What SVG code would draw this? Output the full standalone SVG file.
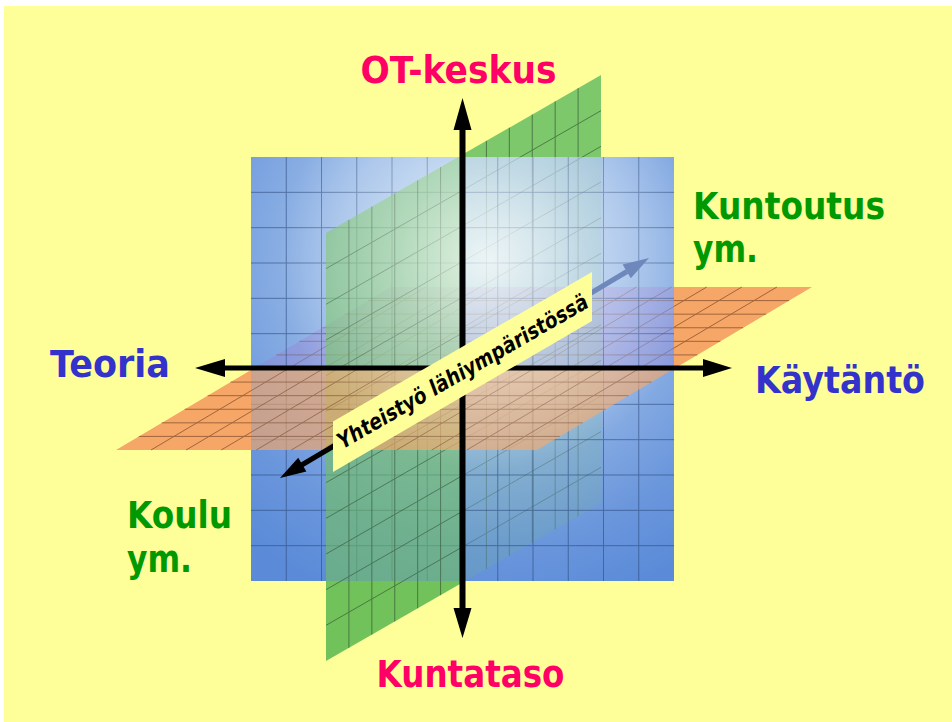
<svg xmlns="http://www.w3.org/2000/svg" xmlns:xlink="http://www.w3.org/1999/xlink" width="952" height="722" viewBox="0 0 952 722">
<style>
.gl{fill:none;stroke-width:1;vector-effect:non-scaling-stroke}
.lbl{font-family:"DejaVu Sans","Liberation Sans",sans-serif;font-weight:bold;font-size:37px}
.mag{fill:#ff0066}.blu{fill:#3333cc}.grn{fill:#009900}
</style>
<defs>
<radialGradient id="blueG" gradientUnits="userSpaceOnUse" cx="480" cy="260" r="360">
<stop offset="0" stop-color="#bcd8ee"/><stop offset="0.4" stop-color="#9dbde8"/><stop offset="0.8" stop-color="#6a96dc"/><stop offset="1" stop-color="#5b8bd8"/>
</radialGradient>
<radialGradient id="glow" gradientUnits="userSpaceOnUse" cx="490" cy="260" r="210">
<stop offset="0" stop-color="#fff" stop-opacity="0.75"/><stop offset="0.45" stop-color="#fff" stop-opacity="0.35"/><stop offset="1" stop-color="#fff" stop-opacity="0"/>
</radialGradient>
<path id="orShape" d="M391,287 L812,287 L537,450 L116,450 Z"/>
<path id="grShape" d="M326,233 L601,75 L601,503 L326,661 Z"/>
<g id="orGrid" transform="translate(391,287) skewX(-59.35)"><path class="gl" stroke="#6a3a20" d="M35.08,0V163M70.17,0V163M105.25,0V163M140.33,0V163M175.42,0V163M210.5,0V163M245.58,0V163M280.67,0V163M315.75,0V163M350.83,0V163M385.92,0V163M0,13.58H421M0,27.17H421M0,40.75H421M0,54.33H421M0,67.92H421M0,81.5H421M0,95.08H421M0,108.67H421M0,122.25H421M0,135.83H421M0,149.42H421"/></g>
<g id="grGrid" transform="translate(326,233) skewY(-29.88)"><path class="gl" stroke="#2d4a2d" d="M22.92,0V428M45.83,0V428M68.75,0V428M91.67,0V428M114.58,0V428M137.5,0V428M160.42,0V428M183.33,0V428M206.25,0V428M229.17,0V428M252.08,0V428M0,35.67H275M0,71.33H275M0,107H275M0,142.67H275M0,178.33H275M0,214H275M0,249.67H275M0,285.33H275M0,321H275M0,356.67H275M0,392.33H275"/></g>
<clipPath id="cOrBackOut"><rect x="674" y="280" width="160" height="88"/></clipPath>
<clipPath id="cOrBackIn"><rect x="251" y="280" width="423" height="88"/></clipPath>
<clipPath id="cOrFrontIn"><rect x="251" y="368" width="423" height="90"/></clipPath>
<clipPath id="cOrFrontOut"><rect x="100" y="368" width="151" height="90"/></clipPath>
<clipPath id="cGrBackOut"><rect x="462" y="60" width="150" height="97"/></clipPath>
<clipPath id="cGrBackIn"><rect x="462" y="157" width="212" height="424"/></clipPath>
<clipPath id="cGrFrontIn"><rect x="251" y="157" width="211" height="424"/></clipPath>
<clipPath id="cGrFrontOut"><rect x="300" y="581" width="180" height="100"/></clipPath>
</defs>

<rect x="0" y="0" width="952" height="722" fill="#ffffff"/>
<rect x="4" y="6" width="948" height="716" fill="#ffff99"/>

<g id="planes">
<rect id="blue-plane" x="251" y="157" width="423" height="424" fill="url(#blueG)"/>
<g id="orange-back-out" clip-path="url(#cOrBackOut)"><use xlink:href="#orShape" fill="#f6a666"/><use xlink:href="#orGrid" opacity="0.6"/></g>
<g id="green-back-out" clip-path="url(#cGrBackOut)"><use xlink:href="#grShape" fill="#7dc86b"/><use xlink:href="#grGrid" opacity="0.6"/></g>
<g id="orange-back-in" clip-path="url(#cOrBackIn)"><use xlink:href="#orShape" fill="#9a78d0" opacity="0.3"/><use xlink:href="#orGrid" opacity="0.35"/></g>
<g id="green-back-in" clip-path="url(#cGrBackIn)"><use xlink:href="#grShape" fill="#7cc46a" opacity="0.15"/><use xlink:href="#grGrid" opacity="0.3"/></g>
<path id="blue-grid" class="gl" stroke="#2c4a7c" opacity="0.6" d="M286.25,157V581M321.5,157V581M356.75,157V581M392,157V581M427.25,157V581M462.5,157V581M497.75,157V581M533,157V581M568.25,157V581M603.5,157V581M638.75,157V581M251,192.33H674M251,227.67H674M251,263H674M251,298.33H674M251,333.67H674M251,369H674M251,404.33H674M251,439.67H674M251,475H674M251,510.33H674M251,545.67H674"/>
</g>

<g id="planes-front">
<g id="green-front-in" clip-path="url(#cGrFrontIn)"><use xlink:href="#grShape" fill="#72c25c" opacity="0.6"/><use xlink:href="#grGrid" opacity="0.55"/></g>
<g id="green-front-out" clip-path="url(#cGrFrontOut)"><use xlink:href="#grShape" fill="#72c25c"/><use xlink:href="#grGrid" opacity="0.6"/></g>
<g id="orange-front-in" clip-path="url(#cOrFrontIn)"><use xlink:href="#orShape" fill="#f6a666" opacity="0.65"/><use xlink:href="#orGrid" opacity="0.5"/></g>
<g id="orange-front-out" clip-path="url(#cOrFrontOut)"><use xlink:href="#orShape" fill="#f6a666"/><use xlink:href="#orGrid" opacity="0.6"/></g>
<rect id="glow-overlay" x="251" y="157" width="423" height="424" fill="url(#glow)"/>
</g>

<g id="connectors">
<line x1="462" y1="370" x2="627" y2="271.5" stroke="#6f88bc" stroke-width="5"/>
<polygon points="649,258 630.8,278.2 622.6,264.4" fill="#6f88bc"/>
<line x1="462.5" y1="126" x2="462.5" y2="612" stroke="#000" stroke-width="6"/>
<polygon points="462.5,98 453.5,130 471.5,130" fill="#000"/>
<polygon points="462.5,638 453.5,608 471.5,608" fill="#000"/>
<line x1="222" y1="368" x2="706" y2="368" stroke="#000" stroke-width="5"/>
<polygon points="195,368 225,359 225,377" fill="#000"/>
<polygon points="732,368 703,359 703,377" fill="#000"/>
<line x1="300" y1="466" x2="462" y2="370" stroke="#000" stroke-width="5"/>
<polygon points="280,478 306.4,471.6 298.2,457.8" fill="#000"/>
</g>

<g id="label-yhteistyo">
<polygon points="333,421.5 592,272 592,321 333,472" fill="#ffff99"/>
<text transform="translate(462.5,371.5) rotate(-30)" x="0" y="7.5" text-anchor="middle" font-family="DejaVu Sans, Liberation Sans, sans-serif" font-weight="bold" font-style="italic" font-size="22" textLength="286" lengthAdjust="spacingAndGlyphs" fill="#000">Yhteistyö lähiympäristössä</text>
</g>

<g id="label-ot"><text class="lbl mag" x="360.5" y="83" textLength="196" lengthAdjust="spacingAndGlyphs" font-size="36">OT-keskus</text></g>
<g id="label-kuntataso"><text class="lbl mag" x="376.5" y="687" textLength="188" lengthAdjust="spacingAndGlyphs">Kuntataso</text></g>
<g id="label-teoria"><text class="lbl blu" x="50" y="377" textLength="120" lengthAdjust="spacingAndGlyphs">Teoria</text></g>
<g id="label-kaytanto"><text class="lbl blu" x="755" y="393" textLength="170" lengthAdjust="spacingAndGlyphs">Käytäntö</text></g>
<g id="label-kuntoutus"><text class="lbl grn" x="693" y="219" textLength="192" lengthAdjust="spacingAndGlyphs">Kuntoutus</text><text class="lbl grn" x="693" y="262" textLength="65" lengthAdjust="spacingAndGlyphs">ym.</text></g>
<g id="label-koulu"><text class="lbl grn" x="127" y="528" textLength="105" lengthAdjust="spacingAndGlyphs">Koulu</text><text class="lbl grn" x="127" y="572" textLength="65" lengthAdjust="spacingAndGlyphs">ym.</text></g>
</svg>
